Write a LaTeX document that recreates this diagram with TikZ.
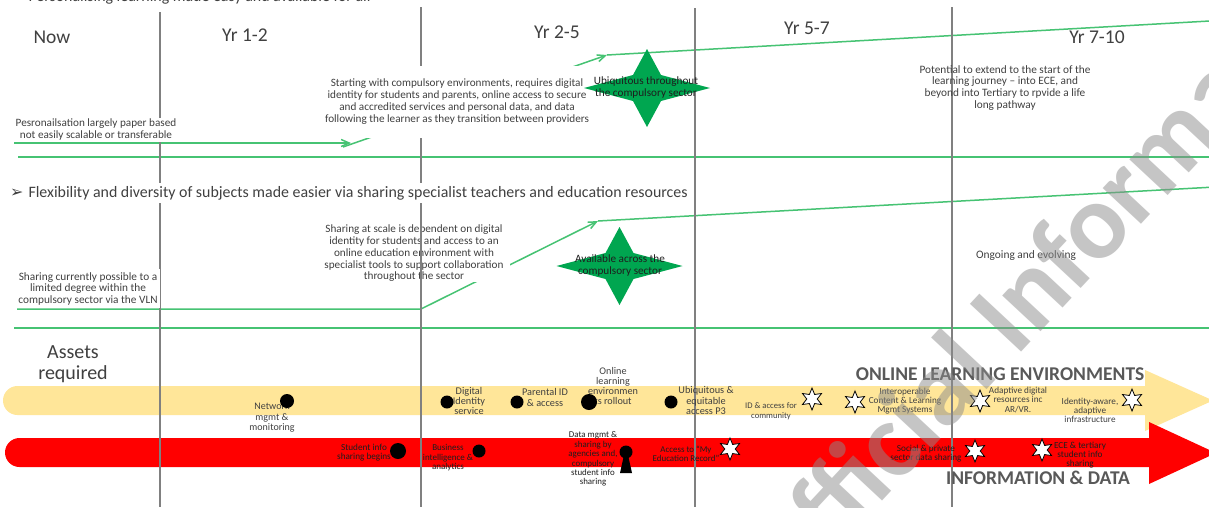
\documentclass[tikz,border=0pt]{standalone}
\usepackage{fontspec}
\setmainfont{Carlito}
\newfontfamily\djv{DejaVu Sans}
\usetikzlibrary{arrows.meta,shapes.geometric}
\definecolor{gline}{RGB}{70,195,115}
\definecolor{vline}{RGB}{128,128,128}
\definecolor{txt}{RGB}{64,64,64}
\definecolor{dtxt}{RGB}{30,30,30}
\definecolor{yel}{RGB}{255,230,153}
\definecolor{redb}{RGB}{255,0,0}
\definecolor{sgreen}{RGB}{0,166,80}
\definecolor{hdr}{RGB}{89,89,89}
\definecolor{wm}{RGB}{140,140,140}
\pgfdeclarelayer{bg}
\pgfsetlayers{bg,main}
\newcommand\fsz[2]{\fontsize{#1}{#2}\selectfont}
\begin{document}
\begin{tikzpicture}[x=1pt,y=-1pt,
  gl/.style={draw=gline,line width=1.5pt},
  garrow/.style={gl,-{Straight Barb[length=8pt,width=7pt]}},
  vl/.style={draw=vline,line width=1.5pt},
  lbl/.style={align=center,inner sep=0pt,text=txt},
  colhead/.style={inner sep=0pt,text=txt,font=\fsz{19.5}{21},anchor=base},
  wbox/.style={fill=white},
  blackdot/.style={circle,fill=black,inner sep=0pt,minimum size=#1},
  wstar/.style={star,star points=6,star point ratio=2.1,minimum size=22pt,inner sep=0pt,fill=white,draw=black,line width=0.8pt},
  banner/.style={inner sep=0pt,text=hdr,font=\fsz{19.5}{21}\bfseries},
  gstar/.pic={\fill[sgreen] (-63,0) -- (-14,-13) -- (0,-39) -- (14,-13) -- (63,0) -- (14,13) -- (0,39) -- (-14,13) -- cycle;},
]
\useasboundingbox (0,0) rectangle (1209,507);

\begin{pgfonlayer}{bg}
  \fill[white] (0,0) rectangle (1209,507);
  % section 1 green lines
  \coordinate (a1) at (14,143);
  \coordinate (a2) at (351,143);
  \coordinate (a3) at (343,147);
  \coordinate (a4) at (607,55);
  \coordinate (a5) at (1215,20.7);
  \draw[garrow] (a1) -- (a2);
  \draw[garrow] (a3) -- (a4);
  \draw[gl] (a4) -- (a5);
  \coordinate (s1l) at (18,157);
  \coordinate (s1r) at (1215,157);
  \draw[gl] (s1l) -- (s1r);
  % section 2 green lines
  \coordinate (b1) at (17,309);
  \coordinate (b2) at (421,309);
  \coordinate (b3) at (598,221);
  \coordinate (b4) at (1215,187);
  \draw[garrow] (b1) -- (b2) -- (b3);
  \draw[gl] (b3) -- (b4);
  \coordinate (s2l) at (14,328);
  \coordinate (s2r) at (1215,328);
  \draw[gl] (s2l) -- (s2r);
  \node[lbl,wbox,font=\fsz{11.2}{11.75},inner xsep=6pt,inner ysep=0pt] (shscale) at (414,253.4)
    {Sharing at scale is dependent on digital\\identity for students and access to an\\online education environment with\\specialist tools to support collaboration\\throughout the sector};
  % bands
  \fill[yel] (17.5,400.5) circle[radius=14.5];
  \fill[yel] (17.5,386) -- (1145,386) -- (1145,370) -- (1213,400.5) -- (1145,431) -- (1145,415) -- (17.5,415) -- cycle;
  \fill[redb] (19.5,452.5) circle[radius=14.5];
  \fill[redb] (19.5,438) -- (1149,438) -- (1149,422) -- (1216,453) -- (1149,484) -- (1149,467) -- (19.5,467) -- cycle;
\end{pgfonlayer}

% grid lines
\draw[vl] (160,12) -- (160,507);
\draw[vl] (421,7) -- (421,507);
\draw[vl] (695,8) -- (695,507);
\draw[vl] (952,7) -- (952,507);

% headings
\node[anchor=base west,inner sep=0pt,text=txt,font=\fsz{15.9}{17}] (h1) at (10,1)
  {{\djv ➢}\hspace{5pt}Personalising learning made easy and available for all};
\node[wbox,anchor=base west,inner xsep=2pt,inner ysep=3pt,text=txt,font=\fsz{15.9}{17}] (h2) at (8,197)
  {{\djv ➢}\hspace{5pt}Flexibility and diversity of subjects made easier via sharing specialist teachers and education resources\hspace{8pt}};

\node[colhead] (now) at (52,43.5) {Now};
\node[colhead] (y12) at (245,41.5) {Yr 1-2};
\node[colhead] (y25) at (557,38.5) {Yr 2-5};
\node[colhead] (y57) at (807,34.5) {Yr 5-7};
\node[colhead] (y710) at (1097,43.5) {Yr 7-10};

% section 1 texts
\node[lbl,wbox,font=\fsz{11.2}{12},inner xsep=2pt,inner ysep=1.5pt] (pers) at (96,130)
  {Pesronailsation largely paper based\\not easily scalable or transferable};
\node[lbl,wbox,font=\fsz{11.2}{12},inner xsep=2pt,inner ysep=13pt] (start) at (457,102)
  {Starting with compulsory environments, requires digital\\identity for students and parents, online access to secure\\and accredited services and personal data, and data\\following the learner as they transition between providers};
\pic at (647,88) {gstar};
\node[lbl,text=dtxt,font=\fsz{11.2}{12}] (ubiq) at (646,88) {Ubiquitous throughout\\the compulsory sector};
\node[lbl,font=\fsz{11.3}{11.7}] (pot) at (1005,87.8)
  {Potential to extend to the start of the\\learning journey – into ECE, and\\beyond into Tertiary to rpvide a life\\long pathway};

% section 2 texts
\node[lbl,wbox,font=\fsz{11.3}{11.5},inner xsep=2pt,inner ysep=3pt] (shcur) at (88,288.5)
  {Sharing currently possible to a\\limited degree within the\\compulsory sector via the VLN};
\pic at (619.5,266) {gstar};
\node[lbl,text=dtxt,font=\fsz{11.2}{12}] (avail) at (620,266) {Available across the\\compulsory sector};
\node[lbl,font=\fsz{11.4}{12}] (ongo) at (1026,256) {Ongoing and evolving};

% assets
\node[lbl,font=\fsz{20}{21}] (assets) at (73,364.5) {Assets\\required};
\node[banner] (ole) at (1000,374) {ONLINE LEARNING ENVIRONMENTS};
\node[banner] (infd) at (1038,478) {INFORMATION \& DATA};

% yellow band labels and markers
\node[lbl,font=\fsz{10}{10.5}] (l1) at (272,417.7) {Network\\mgmt \&\\monitoring};
\node[blackdot=14pt] (d1) at (287,401) {};
\node[lbl,font=\fsz{10.3}{10}] (l2) at (469,401) {Digital\\Identity\\service};
\node[blackdot=13pt] (d2) at (447,402) {};
\node[lbl,font=\fsz{10.3}{11}] (l3) at (545,397.5) {Parental ID\\\& access};
\node[blackdot=13pt] (d3) at (517,402) {};
\node[lbl,font=\fsz{10.2}{9.8}] (l4) at (613,386) {Online\\learning\\environmen\\ts rollout};
\node[blackdot=16pt] (d4) at (589,402) {};
\node[lbl,font=\fsz{10.3}{10.5}] (l5) at (706,400.7) {Ubiquitous \&\\equitable\\access P3};
\node[blackdot=13pt] (d5) at (671,402) {};
\node[lbl,font=\fsz{8.6}{10}] (l6) at (771,411) {ID \& access for\\community};
\node[wstar] (st1) at (812,399) {};
\node[wstar] (st2) at (855,402) {};
\node[lbl,font=\fsz{9.2}{9}] (l7) at (905,401) {Interoperable\\Content \& Learning\\Mgmt Systems};
\node[wstar] (st3) at (980,401) {};
\node[lbl,font=\fsz{9.2}{9.5}] (l8) at (1018,399.7) {Adaptive digital\\resources inc\\AR/VR.};
\node[lbl,font=\fsz{9.2}{9}] (l9) at (1090,410) {Identity-aware,\\adaptive\\infrastructure};
\node[wstar] (st4) at (1132,400) {};

% red band labels and markers
\node[lbl,text=dtxt,font=\fsz{9.2}{9}] (r1) at (364,452.5) {Student info\\sharing begins};
\node[blackdot=16pt] (e1) at (398,451) {};
\node[lbl,text=dtxt,font=\fsz{9}{9.5}] (r2) at (448,457.7) {Business\\intelligence \&\\analytics};
\node[blackdot=13pt] (e2) at (479,451) {};
\node[lbl,text=dtxt,font=\fsz{8.9}{9.4}] (r3) at (593,459.2) {Data mgmt \&\\sharing by\\agencies and,\\compulsory\\student info\\sharing};
\node[blackdot=13pt] (kh) at (626,452) {};
\fill[black] (624,455) -- (628,455) -- (632,473) -- (620,473) -- cycle;
\node[lbl,text=dtxt,font=\fsz{8.9}{9}] (r4) at (686,453.5) {Access to “My\\Education Record”};
\node[wstar] (st5) at (730,449) {};
\node[lbl,text=dtxt,font=\fsz{9.2}{9}] (r5) at (926,453.5) {Social \& private\\sector data sharing};
\node[wstar] (st6) at (975,451) {};
\node[wstar] (st7) at (1042,450) {};
\node[lbl,text=dtxt,font=\fsz{9.2}{9}] (r6) at (1080,455) {ECE \& tertiary\\student info\\sharing};

% watermark
\node[rotate=47,anchor=base west,inner sep=0pt,text=wm,opacity=0.5,font=\fsz{108}{112}\bfseries] (wmark) at (785,606) {Official Information};
\end{tikzpicture}
\end{document}
